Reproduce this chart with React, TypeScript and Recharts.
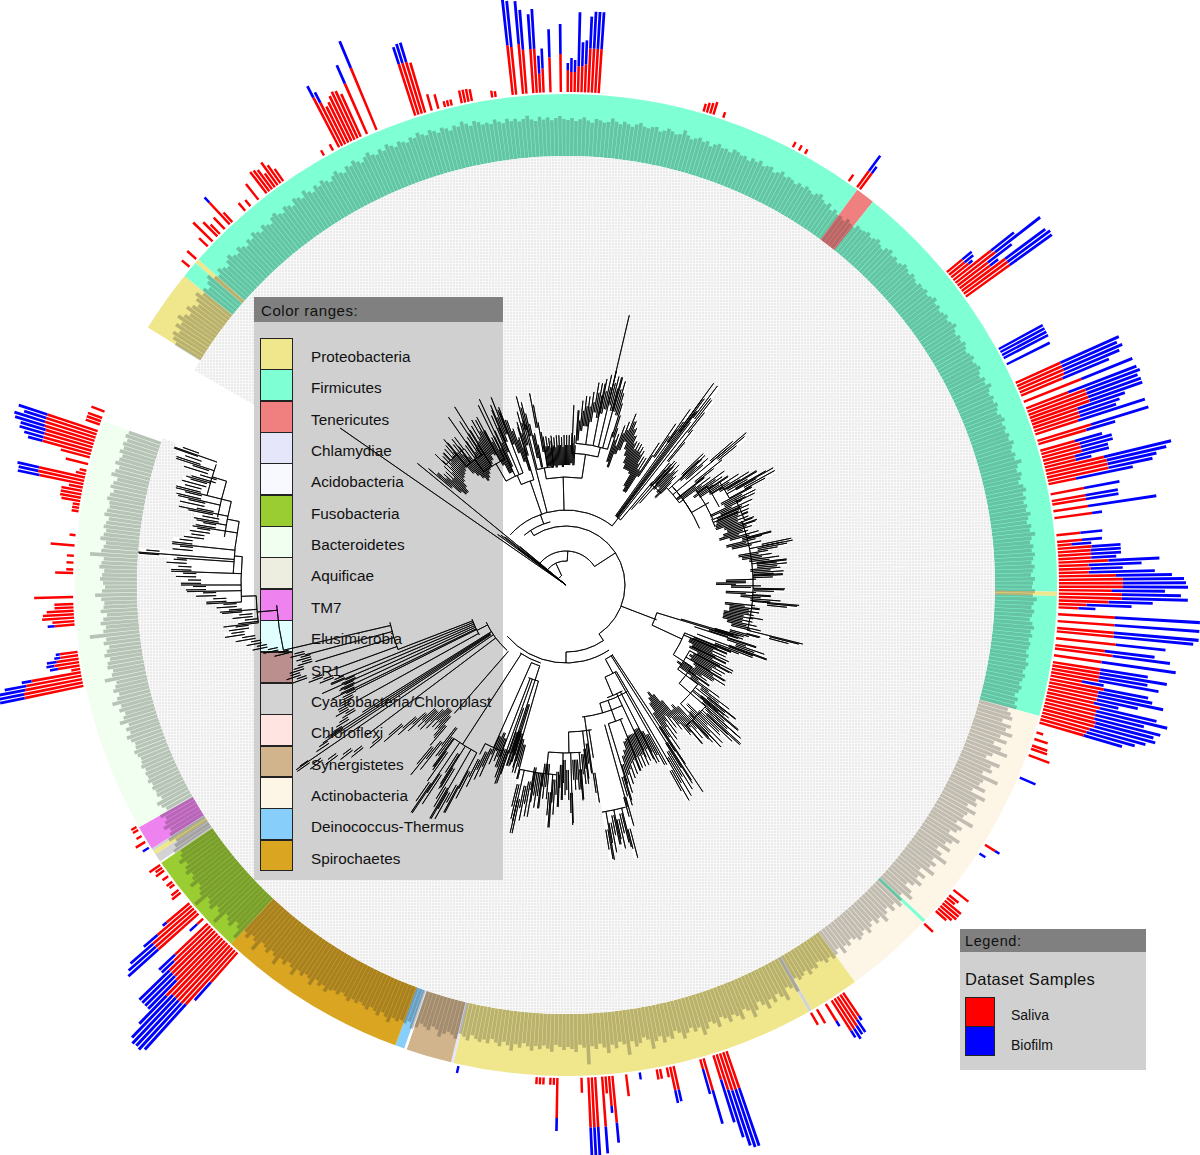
import { PieChart, Pie, Sector } from 'recharts';

// Colour ranges, in legend order
const PHYLA = [
  'Proteobacteria', 'Firmicutes', 'Tenericutes', 'Chlamydiae', 'Acidobacteria', 'Fusobacteria',
  'Bacteroidetes', 'Aquificae', 'TM7', 'Elusimicrobia', 'SR1', 'Cyanobacteria/Chloroplast',
  'Chloroflexi', 'Synergistetes', 'Actinobacteria', 'Deinococcus-Thermus', 'Spirochaetes',
];
const PHYLA_COLORS = [
  '#F0E68C', '#7FFFD4', '#F08080', '#E6E6FA', '#F8F8FF', '#9ACD32', '#F0FFF0', '#EEEEE0', '#EE82EE',
  '#E0FFFF', '#BC8F8F', '#D3D3D3', '#FFE4E1', '#D2B48C', '#FDF5E6', '#87CEFA', '#DAA520',
];

// Ring, clockwise from 12 o'clock: phylum and width in degrees
const ringPhyla = [
  'Firmicutes', 'Tenericutes', 'Firmicutes', 'Proteobacteria', 'Firmicutes', 'Actinobacteria', 'Firmicutes',
  'Actinobacteria', 'Proteobacteria', 'Cyanobacteria/Chloroplast', 'Proteobacteria', 'Chlamydiae', 'Synergistetes',
  'gap', 'Deinococcus-Thermus', 'Spirochaetes', 'Fusobacteria', 'gap', 'Cyanobacteria/Chloroplast', 'Proteobacteria',
  'Cyanobacteria/Chloroplast', 'TM7', 'Bacteroidetes', 'gap', 'Proteobacteria', 'Firmicutes', 'Proteobacteria', 'Firmicutes',
];
const ringWidths = [
  36.4, 2.3, 52.1, 0.5, 14.2, 27.5, 0.4, 10.6, 6, 0.4, 42.9, 0.3, 5.4, 0.3, 1.1, 22.7, 12.5, 0.2, 1, 0.5, 0.3,
  2.9, 49.1, 12.1, 7.4, 2, 0.5, 48.5,
];

// Bars per taxon: [angle in degrees clockwise from the top, saliva, biofilm]
const topBars = [
  [-6.3, 50, 50], [-5.9, 48, 46], [-5.4, 50, 43], [-5, 30, 24], [-4.6, 44, 40], [-4.2, 44, 38], [-3.9, 44, 35],
  [-3.5, 44, 40], [-3.1, 19, 18], [-2.7, 24, 20], [-1.8, 35, 28], [-0.9, 38, 30], [0, 22, 7], [0.5, 20, 14], [0.9, 20, 12],
  [1.2, 26, 54], [1.6, 26, 24], [2, 28, 24], [2.4, 44, 32], [2.8, 44, 37], [3.2, 44, 37], [3.6, 44, 37],
  [-23, 67, 29], [-23.8, 55, 20], [-27.7, 56, 13], [-27.3, 48, 12], [-26.9, 42, 0], [-26.5, 45, 0], [-26.1, 50, 0],
  [-25.7, 53, 0], [-25.3, 52, 0], [-24.9, 47, 0], [-28.4, 7, 0], [-29.7, 6, 0],
  [-35.2, 15, 0], [-35.6, 22, 0], [-36, 28, 0], [-36.4, 17, 0], [-36.8, 24, 0], [-37.2, 26, 0], [-37.6, 27, 0], [-38.6, 20, 0],
  [-40.1, 8, 0], [-40.6, 10, 0], [-43, 13, 0], [-43.4, 30, 7], [-43.8, 16, 0], [-44.2, 16, 0], [-44.6, 12, 0], [-45, 13, 0],
  [-45.4, 20, 0], [-45.8, 29, 0], [-46.2, 27, 0], [-46.6, 18, 0], [-47, 12, 0], [-48.7, 12, 0], [-50.2, 10, 0],
  [-18.2, 30, 8], [-17.9, 54, 18], [-17.5, 54, 20], [-17.1, 54, 20], [-16.7, 52, 0], [-16.2, 14, 0], [-15.8, 17, 0], [-15.4, 15, 0],
  [-14.5, 6, 0], [-14.1, 6, 0], [-13.6, 6, 0], [-12.4, 13, 0], [-12, 13, 0], [-11.6, 13, 0], [-11.2, 12, 0], [-8.9, 7, 0], [-8.5, 6, 0],
  [16.1, 8, 0], [16.5, 10, 0], [16.9, 11, 0], [17.3, 13, 0], [18.4, 6, 0], [27.2, 6, 0], [28, 6, 0], [28.6, 5, 0], [34.7, 8, 0],
  [36, 20, 19], [36.5, 20, 8],
];
const rightBars = [
  [50.4, 20, 12], [50.8, 20, 11], [51.2, 22, 5], [51.6, 48, 29], [52, 50, 57], [52.4, 38, 30], [52.8, 38, 10], [53.2, 54, 50], [53.6, 54, 53], [54, 54, 52],
  [61.2, 0, 50], [61.6, 0, 50], [62, 0, 50], [62.4, 0, 50], [63, 0, 48],
  [65.5, 49, 64], [65.9, 49, 60], [66.3, 49, 64], [66.7, 48, 60], [67.1, 45, 50], [67.8, 60, 58], [68.2, 62, 55], [68.6, 45, 73],
  [69.2, 62, 58], [69.6, 62, 54], [70, 62, 56], [70.4, 62, 56], [70.9, 48, 50], [71.3, 48, 43], [71.7, 48, 38], [72.1, 45, 70],
  [72.6, 56, 60], [73, 56, 53], [73.4, 50, 30], [74, 36, 28], [74.4, 40, 33], [74.8, 40, 33], [75.2, 40, 27], [75.6, 32, 35], [76, 32, 16],
  [76.4, 60, 69], [76.8, 62, 61], [77.2, 62, 50], [77.6, 62, 45], [78.2, 28, 58], [79, 34, 45], [79.4, 34, 36], [79.8, 34, 33], [80.4, 34, 33],
  [81, 35, 69], [81.9, 38, 10], [84, 24, 22], [84.6, 25, 20], [85, 14, 20], [85.7, 34, 29], [86, 33, 30], [86.4, 33, 30], [86.8, 33, 25],
  [87.2, 50, 51], [87.6, 30, 53], [88, 32, 32], [88.4, 30, 66], [88.8, 57, 56], [89.2, 64, 61], [89.6, 64, 63], [90, 64, 65], [90.4, 53, 53],
  [90.8, 63, 59], [91.2, 63, 66], [91.6, 50, 44], [92, 28, 45], [92.5, 20, 17], [93, 38, 50], [93.4, 57, 85], [93.8, 57, 85], [94.2, 57, 85],
  [94.6, 57, 85], [95, 57, 85], [95.4, 57, 80], [95.8, 55, 60], [96.2, 60, 50], [96.6, 50, 50], [97, 58, 60], [97.4, 58, 58], [97.8, 55, 60],
  [98.2, 48, 75], [98.6, 48, 48], [99.2, 48, 68], [99.6, 48, 49], [100, 48, 61], [100.4, 32, 22], [100.8, 55, 45], [101.2, 50, 55], [101.6, 50, 67],
  [102, 50, 42], [102.4, 48, 25], [102.8, 55, 58], [103.2, 52, 73], [103.6, 52, 50], [104, 52, 68], [104.4, 54, 60], [104.8, 54, 63], [105.2, 50, 58],
  [105.6, 48, 50], [106, 46, 40], [107.4, 7, 0], [108.2, 14, 0], [108.6, 16, 0], [109, 18, 0], [109.4, 17, 0], [109.8, 24, 13], [110.2, 22, 0],
  [112.6, 0, 17], [121.7, 12, 5], [122.6, 0, 7], [128, 19, 0], [128.8, 12, 0], [129.2, 10, 0], [129.6, 21, 0], [130, 21, 0], [130.4, 21, 0],
  [130.8, 18, 0], [131.2, 14, 0], [133.1, 12, 0],
];
const bottomBars = [
  [145.6, 28, 5], [146, 30, 15], [146.4, 35, 10], [146.8, 36, 12], [147.2, 36, 8], [147.9, 20, 6], [149.3, 16, 0], [150, 14, 0],
  [160.8, 39, 61], [161.2, 39, 61], [161.6, 39, 58], [162, 37, 50], [162.4, 25, 45], [163.7, 33, 35], [164.1, 10, 26], [167.3, 24, 12], [167.7, 24, 13],
  [168.1, 10, 0], [168.8, 10, 0], [169.2, 10, 0], [171.4, 0, 7], [172.6, 22, 0], [174.2, 47, 20], [174.6, 30, 7], [175, 17, 0], [175.5, 50, 27],
  [176.2, 50, 28], [176.6, 50, 28], [177, 50, 28], [178.1, 15, 0], [180.7, 40, 13], [181.2, 7, 0], [181.6, 7, 0], [182.2, 7, 0], [182.6, 7, 0], [183, 7, 0], [192.3, 0, 7],
];
const leftBars = [
  [221.6, 40, 24], [222, 73, 61], [222.4, 75, 63], [222.8, 75, 62], [223.2, 75, 63], [223.6, 75, 59], [224, 80, 39], [224.4, 62, 40], [224.8, 60, 42],
  [225.2, 60, 42], [225.6, 60, 42], [226, 50, 17], [226.4, 45, 22], [227, 8, 10], [227.4, 8, 10], [227.9, 54, 40], [228.3, 54, 36], [228.7, 54, 30],
  [229, 50, 18], [229.4, 45, 18], [229.8, 30, 5], [231, 10, 0], [231.4, 11, 0], [231.8, 9, 0], [232.2, 6, 0], [232.8, 7, 0], [233.6, 7, 0], [234.3, 10, 0],
  [234.7, 8, 0], [235.1, 13, 0], [237.7, 0, 7], [238.2, 11, 0], [239.3, 6, 0], [240, 6, 0], [240.5, 6, 0],
  [258, 60, 25], [258.4, 60, 28], [258.8, 58, 26], [259.2, 56, 22], [259.6, 50, 10], [260, 9, 0], [260.4, 22, 8], [260.8, 25, 8], [261.2, 22, 10], [261.6, 18, 6], [262, 18, 4],
  [265.2, 20, 7], [265.6, 22, 0], [266, 32, 0], [266.4, 31, 0], [266.8, 27, 0], [267.2, 19, 0], [267.6, 19, 0], [268.4, 39, 0], [271, 7, 0], [271.4, 18, 0], [271.8, 7, 0], [272.4, 7, 0],
  [273, 10, 0], [273.4, 7, 0], [274.3, 24, 0], [275.6, 6, 0], [278.4, 7, 0], [278.8, 7, 0], [279.2, 7, 0], [279.6, 19, 0], [280, 21, 0], [280.4, 21, 0], [280.8, 21, 0],
  [281.2, 14, 0], [281.6, 45, 22], [282, 47, 20], [282.4, 47, 22], [282.8, 10, 0], [283.4, 7, 0], [284, 23, 0], [284.6, 30, 0], [285.2, 50, 15], [285.6, 50, 20], [286, 50, 26],
  [286.4, 50, 26], [286.8, 52, 31], [287.2, 53, 32], [287.6, 53, 23], [288, 53, 30], [288.7, 15, 0], [289.1, 15, 0], [289.5, 15, 0], [290.2, 14, 0],
];

// Length of the dark leaf lines in the ring, one value per half degree, ten degrees a row
const leafLength = [
  36, 38, 35, 37, 39, 36, 34, 38, 37, 35, 36, 40, 37, 35, 38, 36, 34, 37, 39, 36,
  35, 37, 38, 34, 36, 39, 37, 35, 36, 41, 37, 34, 36, 38, 35, 37, 33, 36, 38, 35,
  36, 34, 38, 37, 35, 36, 33, 37, 35, 38, 34, 36, 37, 33, 35, 38, 34, 36, 35, 33,
  36, 34, 37, 35, 33, 36, 38, 34, 32, 35, 30, 33, 30, 31, 29, 33, 31, 30, 34, 33,
  34, 36, 33, 35, 37, 34, 32, 36, 38, 34, 36, 33, 35, 38, 36, 34, 37, 35, 33, 36,
  35, 37, 34, 36, 39, 35, 37, 34, 36, 38, 35, 37, 40, 36, 34, 37, 35, 38, 36, 34,
  36, 38, 35, 37, 39, 36, 34, 38, 36, 41, 37, 35, 38, 36, 39, 37, 35, 38, 40, 36,
  38, 36, 39, 37, 41, 38, 36, 39, 37, 43, 38, 36, 40, 38, 35, 39, 41, 37, 39, 36,
  39, 37, 41, 38, 36, 40, 38, 43, 39, 37, 40, 38, 41, 39, 37, 40, 38, 36, 40, 38,
  37, 40, 38, 42, 39, 37, 40, 38, 36, 39, 41, 38, 40, 37, 39, 38, 36, 39, 37, 40,
  38, 36, 39, 37, 35, 38, 36, 33, 37, 35, 38, 30, 34, 37, 28, 38, 34, 42, 31, 39,
  27, 36, 44, 30, 25, 41, 33, 36, 28, 46, 32, 30, 38, 26, 42, 34, 37, 29, 40, 33,
  31, 44, 28, 36, 33, 27, 41, 35, 30, 38, 26, 33, 42, 29, 35, 31, 39, 25, 34, 28,
  36, 30, 24, 33, 38, 27, 31, 35, 28, 33, 26, 30, 36, 28, 31, 25, 29, 33, 27, 30,
  32, 28, 25, 30, 27, 33, 25, 29, 31, 27, 30, 26, 24, 29, 27, 31, 25, 28, 30, 26,
  39, 33, 30, 42, 36, 31, 38, 33, 41, 35, 30, 37, 43, 34, 31, 40, 35, 32, 38, 33,
  30, 39, 34, 31, 37, 42, 33, 36, 31, 35, 40, 33, 30, 37, 34, 39, 32, 36, 43, 33,
  30, 35, 38, 32, 45, 34, 31, 37, 33, 41, 35, 31, 36, 33, 51, 34, 31, 38, 35, 33,
  36, 33, 31, 38, 35, 32, 36, 33, 38, 34, 31, 36, 33, 40, 35, 32, 37, 34, 31, 36,
  33, 36, 34, 31, 37, 34, 32, 38, 35, 33, 36, 40, 34, 32, 37, 35, 33, 38, 41, 35,
  38, 36, 39, 37, 43, 39, 36, 41, 38, 36, 40, 38, 36, 39, 37, 41, 38, 36, 40, 38,
  40, 44, 39, 42, 38, 46, 41, 39, 43, 40, 48, 42, 39, 44, 41, 50, 43, 40, 45, 42,
  40, 52, 44, 41, 47, 43, 55, 46, 42, 50, 47, 44, 58, 48, 45, 52, 49, 46, 60, 50,
  47, 44, 52, 46, 43, 48, 45, 41, 47, 42, 39, 45, 41, 37, 43, 39, 36, 41, 37, 34,
  38, 29, 32, 35, 28, 31, 30, 32, 30, 33, 31, 32, 30, 33, 31, 30, 32, 34, 31, 30,
  33, 36, 31, 34, 30, 38, 33, 30, 35, 32, 40, 34, 31, 36, 33, 31, 42, 34, 32, 37,
  36, 33, 38, 35, 32, 37, 34, 50, 36, 33, 38, 35, 31, 37, 34, 33, 36, 42, 35, 32,
  34, 37, 35, 33, 38, 36, 34, 48, 37, 35, 33, 39, 36, 34, 37, 35, 33, 38, 36, 34,
  35, 38, 36, 33, 37, 35, 32, 39, 36, 33, 38, 35, 33, 37, 34, 36, 33, 36, 34, 0,
  0, 0, 0, 0, 0, 0, 0, 0, 0, 0, 0, 0, 0, 0, 0, 0, 0, 0, 0, 0,
  0, 0, 0, 30, 35, 38, 33, 40, 36, 43, 38, 34, 41, 37, 33, 38, 42, 36, 39, 35,
  40, 44, 38, 36, 41, 38, 35, 40, 43, 39, 37, 42, 39, 36, 41, 38, 43, 40, 37, 42,
  39, 37, 42, 44, 40, 38, 43, 41, 38, 44, 42, 39, 45, 41, 38, 43, 40, 44, 41, 38,
  42, 45, 41, 39, 44, 42, 46, 43, 40, 44, 47, 43, 41, 45, 42, 47, 44, 41, 45, 43,
  41, 45, 43, 47, 44, 42, 46, 44, 41, 45, 43, 40, 44, 42, 46, 43, 40, 44, 42, 39,
  40, 38, 42, 39, 37, 41, 38, 40, 37, 39, 42, 38, 36, 40, 37, 39, 36, 38, 40, 37,
];

// Radius where the leaf dots start (the tip of the tree), one value per degree
const tipReach = [
  150, 150, 152, 150, 175, 185, 190, 190, 195, 205,
  205, 210, 215, 220, 215, 215, 212, 190, 165, 160,
  170, 175, 185, 178, 172, 165, 160, 160, 160, 158,
  155, 150, 150, 170, 195, 215, 230, 250, 235, 200,
  160, 165, 160, 165, 160, 155, 190, 185, 190, 220,
  232, 200, 175, 180, 195, 190, 195, 205, 215, 222,
  230, 238, 210, 212, 195, 205, 200, 198, 196, 195,
  198, 200, 195, 190, 200, 212, 195, 200, 230, 225,
  205, 208, 215, 222, 222, 215, 218, 217, 190, 180,
  195, 218, 190, 205, 215, 232, 190, 195, 195, 190,
  190, 190, 195, 200, 240, 200, 185, 180, 200, 210,
  214, 200, 178, 175, 175, 180, 178, 188, 185, 182,
  180, 185, 188, 175, 170, 175, 190, 205, 216, 210,
  225, 232, 236, 228, 215, 222, 224, 210, 205, 209,
  195, 185, 180, 185, 190, 200, 215, 232, 240, 245,
  248, 205, 200, 195, 195, 198, 198, 198, 200, 202,
  205, 210, 218, 230, 250, 282, 265, 270, 265, 272,
  278, 220, 190, 195, 200, 215, 205, 205, 238, 215,
  210, 215, 222, 230, 243, 215, 215, 225, 225, 220,
  235, 240, 254, 240, 200, 195, 190, 188, 190, 210,
  205, 195, 190, 195, 210, 215, 225, 240, 258, 268,
  270, 250, 235, 262, 275, 240, 225, 215, 235, 245,
  210, 200, 195, 195, 200, 205, 205, 215, 225, 240,
  255, 275, 285, 300, 315, 327, 300, 280, 270, 260,
  265, 260, 255, 250, 250, 248, 245, 255, 265, 275,
  290, 295, 290, 280, 280, 285, 300, 310, 320, 325,
  335, 345, 340, 330, 335, 345, 350, 360, 370, 380,
  385, 390, 395, 400, 428, 395, 396, 385, 380, 375,
  378, 385, 395, 400, 402, 398, 390, 400, 410, 415,
  429, 429, 429, 429, 429, 429, 429, 429, 429, 429,
  280, 280, 278, 278, 276, 275, 250, 210, 200, 192,
  180, 170, 165, 165, 170, 175, 178, 180, 182, 184,
  185, 180, 175, 170, 172, 175, 178, 180, 182, 185,
  190, 188, 175, 165, 165, 170, 185, 195, 202, 190,
  175, 165, 155, 170, 180, 195, 188, 165, 155, 195,
  165, 150, 150, 148, 150, 148, 150, 150, 148, 150,
];
// How far the black tip comb reaches back, per ten degrees
const tipFuzz = [
  30, 35, 30, 40, 30, 35, 35, 30, 30, 30, 30, 40, 35, 45, 45, 35, 30, 30,
  35, 35, 30, 35, 25, 15, 15, 15, 20, 20, 25, 0, 0, 30, 40, 40, 35, 30,
];
// How much shorter the tips between them stay, per ten degrees
const tipInset = [
  10, 12, 8, 14, 8, 12, 12, 10, 10, 10, 10, 14, 12, 16, 16, 12, 10, 10,
  12, 12, 10, 12, 8, 5, 5, 5, 7, 7, 8, 0, 0, 10, 14, 14, 12, 10,
];

// Tree branches: arcs are [from angle, to angle, radius], stems are [angle, from radius, to radius]
const treeArcs = [
  [-50, -30, 10], [-50, 3, 24], [-52, 57, 34], [-33, 146, 59], [-48, 38, 75], [-40, -14, 65], [146, 180, 67], [146.5, 229, 78], [198, 214, 82],
  [-10.5, 8.5, 108], [-14, -6, 119], [2.5, 14, 132], [4, 17, 142],
  [-24, -17, 110], [-30, -21, 120], [-36, -26, 140], [-40, -31, 155], [-45, -37, 170],
  [36.5, 40, 85], [40, 46, 132], [46, 54, 140], [48, 60, 145], [54, 66, 161], [55, 63, 172], [56, 62, 185], [63, 70, 190], [47, 67, 145],
  [65.6, 68.7, 160], [70, 104, 187],
  [107, 115, 95], [112, 123, 128], [118, 127, 140], [123, 131, 150], [127, 136, 165], [131, 140, 185],
  [146, 152, 84], [150, 157, 100], [152, 160, 120], [150, 164, 123], [155, 173, 133], [157, 163, 145], [165, 171, 230], [170, 179, 147],
  [175, 186, 168], [183, 194, 190], [198, 204, 85], [196, 202, 100],
  [222, 245, 88], [240, 250, 100], [249, 258, 180], [257, 266, 290], [208, 216, 190], [201, 207, 178],
  [267, 275, 325], [272, 281, 333], [278, 284, 345], [281, 287, 355], [284, 289, 370], [263, 268, 310],
];
const treeStems = [
  [-55.2, 0, 275], [-50.7, 0, 192], [-53.5, 0, 85], [-52.5, 0, 82], [-51.8, 0, 78], [-53, 0, 60], [-50.2, 0, 60],
  [-25, 10, 24], [3, 24, 34], [57, 34, 59], [-33, 59, 65], [-20, 65, 75], [146, 59, 67], [180, 67, 78], [111, 59, 97], [38, 75, 85],
  [-1.5, 75, 108], [-10.5, 108, 119], [-14, 119, 165], [-6, 119, 145], [-9, 119, 140], [-14.6, 75, 170], [8.5, 108, 132], [2.5, 132, 180],
  [14, 132, 142], [4, 142, 175], [8, 142, 165], [13.2, 142, 277], [17, 142, 160], [11, 142, 205], [15, 142, 215],
  [-19, 75, 110], [-17, 110, 165], [-24, 110, 120], [-21, 120, 185], [-23, 120, 190], [-25, 120, 205], [-30, 120, 140], [-26, 140, 200],
  [-28, 140, 190], [-32, 140, 210], [-36, 140, 155], [-33, 155, 195], [-35, 155, 205], [-38, 155, 185], [-40, 155, 170], [-37, 170, 185],
  [-40, 170, 190], [-43, 170, 180], [-45, 170, 185],
  [36.2, 85, 250], [36.6, 85, 232], [37, 85, 218], [37.4, 85, 205], [35.6, 85, 190], [38.2, 85, 195], [40, 85, 135], [41, 100, 160], [42, 110, 165],
  [46, 132, 140], [47, 140, 190], [49.8, 140, 236], [52, 140, 175], [54, 140, 145], [60, 145, 165], [55, 161, 172], [56, 172, 195], [58, 172, 185],
  [59, 185, 222], [60.5, 185, 238], [62, 185, 210], [66, 161, 190], [64, 190, 210], [68, 190, 196], [70, 190, 200], [67, 160, 187],
  [71, 187, 202], [75.5, 187, 212], [78.8, 187, 231], [83.5, 187, 222], [87, 187, 217], [91, 187, 219], [95, 187, 234], [104, 187, 244],
  [100, 187, 200], [105, 187, 201], [93, 187, 205], [97, 187, 195],
  [107, 95, 185], [106.5, 120, 180], [108, 135, 200], [110.5, 140, 214], [115, 95, 128], [112, 128, 178], [113, 128, 175], [123, 128, 150],
  [118, 140, 188], [116, 140, 178], [121, 140, 186], [127, 140, 165], [125, 150, 175], [131, 150, 185], [128.4, 165, 216], [129.5, 165, 205],
  [130, 165, 225], [136, 165, 185], [132.6, 185, 236], [131.3, 185, 232], [136.3, 185, 224], [139.4, 185, 209], [137, 185, 215],
  [146.5, 84, 248], [147.5, 84, 235], [152, 84, 100], [150.7, 100, 206], [149.8, 100, 205], [157, 100, 120], [153, 120, 200], [155, 120, 190],
  [158, 145, 200], [163, 145, 225], [164.5, 145, 230], [160, 123, 145], [164, 123, 133], [166, 230, 270], [168, 230, 265], [170, 230, 279],
  [172, 133, 190], [173.5, 147, 200], [175.5, 168, 216], [171, 147, 175], [178.4, 168, 240], [181, 168, 215], [186, 168, 190], [179, 147, 168],
  [182, 190, 222], [184, 190, 243], [187, 190, 225], [189.5, 190, 235], [192.7, 190, 254], [194, 190, 200],
  [204, 85, 178], [198, 85, 100], [196, 100, 195], [198, 100, 190], [201, 100, 184], [199.7, 100, 211], [197, 125, 185], [197.5, 125, 190], [199, 130, 200],
  [221, 88, 170], [235.6, 88, 327], [233, 88, 250], [238, 88, 240], [237, 90, 290], [237.5, 90, 285], [236.5, 90, 270], [243, 88, 100], [246, 100, 267],
  [247, 100, 255], [245, 100, 250], [248, 100, 245], [244, 100, 260], [243.5, 100, 235], [241, 100, 240], [249, 100, 180], [250, 180, 255], [253, 180, 262], [255, 180, 270], [257, 180, 290],
  [207, 178, 190], [208, 190, 258], [210, 190, 270], [212, 190, 240], [214, 190, 275],
  [216, 190, 225], [213, 82, 190], [265, 290, 310], [263, 310, 345], [268, 310, 325], [284, 355, 402], [281.5, 345, 395], [279, 333, 378], [283, 355, 398],
  [276, 333, 396], [274.4, 333, 429], [274, 333, 390], [272, 325, 395], [270, 325, 385], [269, 325, 379], [267, 325, 360], [265.5, 310, 347],
  [288, 370, 410], [289.4, 370, 415], [286, 370, 395], [280, 345, 375], [275, 325, 333], [281, 333, 345], [284, 345, 355], [287, 355, 370],
];

const WIDTH = 1200;
const HEIGHT = 1155;
const CX = 566;
const CY = 585;
const RING_INNER = 429;
const RING_OUTER = 491;
const BAR_BASE = 493;
const BAR_SLOTS = 900;
const SLOT_ANGLE = 360 / BAR_SLOTS;

const colorOf = (name: string) => (name === 'gap' ? '#ffffff' : PHYLA_COLORS[PHYLA.indexOf(name)]);

const ringData = ringPhyla.map((name, i) => ({ name, value: ringWidths[i], fill: colorOf(name) }));

const allBars = [...topBars, ...rightBars, ...bottomBars, ...leftBars];
const salivaBySlot: number[] = new Array(BAR_SLOTS).fill(0);
const biofilmBySlot: number[] = new Array(BAR_SLOTS).fill(0);
allBars.forEach(([angle, saliva, biofilm]) => {
  const slot = Math.round(((angle + 360) % 360) / SLOT_ANGLE) % BAR_SLOTS;
  salivaBySlot[slot] = saliva;
  biofilmBySlot[slot] = biofilm;
});
const salivaData = salivaBySlot.map((s) => ({ value: 1, inner: BAR_BASE, outer: BAR_BASE + s, fill: '#ff0000' }));
const biofilmData = biofilmBySlot.map((b, i) => ({
  value: 1,
  inner: BAR_BASE + salivaBySlot[i],
  outer: BAR_BASE + salivaBySlot[i] + b,
  fill: '#0000ff',
}));

const leafData = leafLength.map((len) => ({
  value: 1,
  inner: RING_INNER,
  outer: RING_INNER + len,
  fill: 'rgba(40,40,40,0.28)',
}));
const washData = tipReach.map((r) => ({ value: 1, inner: r, outer: RING_INNER, fill: 'url(#leafDots)' }));
const combLong = tipReach.map((r, i) => {
  const fuzz = tipFuzz[Math.floor(i / 10)];
  return { value: 1, inner: r - fuzz, outer: fuzz ? r : r - fuzz };
});
const combShort = tipReach.map((r, i) => {
  const fuzz = tipFuzz[Math.floor(i / 10)];
  return { value: 1, inner: r - fuzz, outer: fuzz ? r - tipInset[Math.floor(i / 10)] : r - fuzz };
});

const treeData = [
  ...treeArcs.map(([a0, a1, r]) => ({ value: 1, a0, a1, r0: r, r1: r })),
  ...treeStems.map(([a, r0, r1]) => ({ value: 1, a0: a - 0.01, a1: a + 0.01, r0, r1 })),
];

// Sector from the payload's radii, with a small gap between neighbours
const ringSector = (gap: number) => (props: any) => {
  const { cx, cy, startAngle, endAngle, payload } = props;
  if (!(payload.outer > payload.inner)) return <g />;
  return (
    <Sector
      cx={cx}
      cy={cy}
      innerRadius={payload.inner}
      outerRadius={payload.outer}
      startAngle={startAngle - gap / 2}
      endAngle={endAngle + gap / 2}
      fill={payload.fill}
      stroke="none"
    />
  );
};

// One thin tip line inside the slot, at a fraction of its width
const tipLine = (at: number) => (props: any) => {
  const { cx, cy, startAngle, endAngle, payload } = props;
  if (!(payload.outer > payload.inner)) return <g />;
  const angle = startAngle + (endAngle - startAngle) * at;
  return (
    <Sector
      cx={cx}
      cy={cy}
      innerRadius={payload.inner}
      outerRadius={payload.outer}
      startAngle={angle}
      endAngle={angle - 0.02}
      fill="none"
      stroke="#000"
      strokeWidth={0.85}
    />
  );
};

const branchSector = (props: any) => {
  const { cx, cy, payload } = props;
  return (
    <Sector
      cx={cx}
      cy={cy}
      innerRadius={payload.r0}
      outerRadius={payload.r1}
      startAngle={90 - payload.a0}
      endAngle={90 - payload.a1}
      fill="none"
      stroke="#000"
      strokeWidth={0.8}
    />
  );
};

const pieBase = {
  dataKey: 'value',
  cx: CX,
  cy: CY,
  startAngle: 90,
  endAngle: -270,
  stroke: 'none',
  isAnimationActive: false,
};

const layer = { position: 'absolute', left: 0, top: 0 } as const;
const sans = '"Liberation Sans", Arial, sans-serif';
const ROW = 31.35;

function ColorRangesBox() {
  return (
    <div style={{ position: 'absolute', left: 254, top: 297, width: 249, height: 583, background: '#d0d0d0' }}>
      <div style={{ height: 25, background: '#808080' }} />
      {PHYLA.map((name, i) => (
        <div
          key={name}
          style={{
            position: 'absolute',
            left: 6,
            top: 41 + i * ROW,
            width: 31,
            height: 29.85,
            background: PHYLA_COLORS[i],
            border: '1.5px solid #222',
            boxSizing: 'content-box',
          }}
        />
      ))}
    </div>
  );
}

function ColorRangesText() {
  return (
    <div style={{ position: 'absolute', left: 254, top: 297, width: 249, height: 583, fontFamily: sans, color: '#111' }}>
      <div style={{ fontSize: 15, lineHeight: '27px', paddingLeft: 7, letterSpacing: 0.55 }}>Color ranges:</div>
      {PHYLA.map((name, i) => (
        <div key={name} style={{ position: 'absolute', left: 57, top: 50 + i * ROW, fontSize: 15.3, lineHeight: '20px', whiteSpace: 'nowrap' }}>
          {name}
        </div>
      ))}
    </div>
  );
}

function DatasetLegend() {
  return (
    <div style={{ position: 'absolute', left: 960, top: 929, width: 186, height: 141, background: '#d0d0d0', fontFamily: sans, color: '#111' }}>
      <div style={{ height: 23, background: '#808080', fontSize: 14.5, lineHeight: '25px', paddingLeft: 5, letterSpacing: 0.6 }}>Legend:</div>
      <div style={{ position: 'absolute', left: 5, top: 40, fontSize: 16.5, lineHeight: '20px', letterSpacing: 0.3 }}>Dataset Samples</div>
      <div style={{ position: 'absolute', left: 5, top: 68, width: 28, height: 28, background: '#ff0000', border: '1px solid #222' }} />
      <div style={{ position: 'absolute', left: 5, top: 97, width: 28, height: 28, background: '#0000ff', border: '1px solid #222' }} />
      <div style={{ position: 'absolute', left: 51, top: 77, fontSize: 14, lineHeight: '18px' }}>Saliva</div>
      <div style={{ position: 'absolute', left: 51, top: 107, fontSize: 14, lineHeight: '18px' }}>Biofilm</div>
    </div>
  );
}

export default function App() {
  return (
    <div style={{ position: 'absolute', left: 0, top: 0, width: WIDTH, height: HEIGHT, overflow: 'hidden', background: '#fff' }}>
      <div style={layer}>
        <PieChart width={WIDTH} height={HEIGHT} margin={{ top: 0, right: 0, bottom: 0, left: 0 }}>
          <defs>
            <pattern id="leafDots" width="3" height="3" patternUnits="userSpaceOnUse">
              <rect width="3" height="3" fill="#f8f8f8" />
              <circle cx="1" cy="1" r="0.8" fill="#d8d8d8" />
            </pattern>
          </defs>
          <Pie {...pieBase} data={ringData} innerRadius={RING_INNER} outerRadius={RING_OUTER} />
          <Pie {...pieBase} data={leafData} shape={ringSector(0.06)} />
          <Pie {...pieBase} data={washData} shape={ringSector(0)} />
          <Pie {...pieBase} data={salivaData} shape={ringSector(0.12)} />
          <Pie {...pieBase} data={biofilmData} shape={ringSector(0.12)} />
        </PieChart>
      </div>
      <ColorRangesBox />
      <DatasetLegend />
      <div style={layer}>
        <PieChart width={WIDTH} height={HEIGHT} margin={{ top: 0, right: 0, bottom: 0, left: 0 }}>
          <Pie {...pieBase} data={combLong} shape={tipLine(0.25)} />
          <Pie {...pieBase} data={combShort} shape={tipLine(0.75)} />
          <Pie {...pieBase} data={treeData} shape={branchSector} />
        </PieChart>
      </div>
      <ColorRangesText />
    </div>
  );
}
